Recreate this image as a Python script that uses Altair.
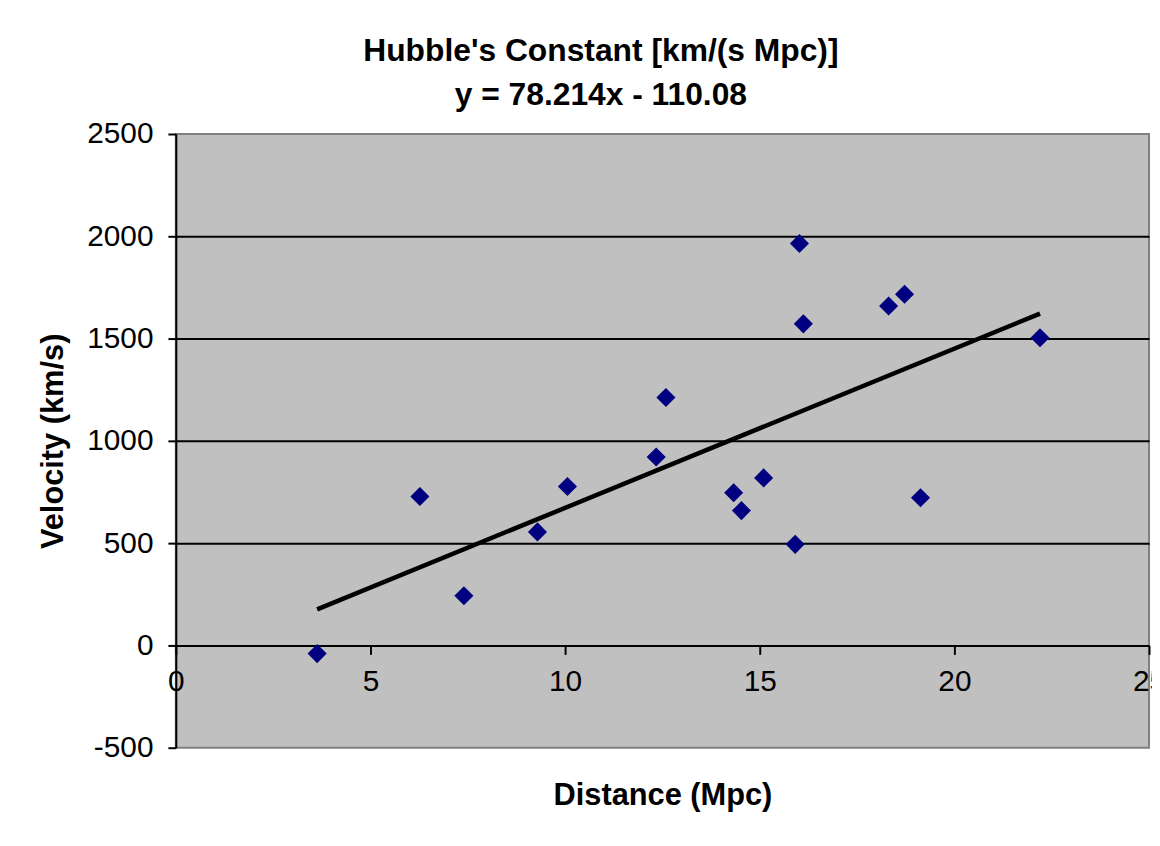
import altair as alt
import pandas as pd

# Data
distance_mpc = [3.63, 6.27, 7.40, 9.29, 10.06, 12.34, 12.59, 14.33, 14.53,
                15.10, 15.91, 16.02, 16.12, 18.31, 18.72, 19.13, 22.20]
velocity_kms = [-40, 728, 243, 555, 777, 921, 1212, 746, 659,
                819, 494, 1965, 1572, 1659, 1717, 722, 1504]
x_ticks = [0, 5, 10, 15, 20, 25]
y_ticks = [-500, 0, 500, 1000, 1500, 2000, 2500]
title_lines = ["Hubble's Constant [km/(s Mpc)]", "y = 78.214x - 110.08"]
x_title = "Distance (Mpc)"
y_title = "Velocity (km/s)"

df = pd.DataFrame({"Distance": distance_mpc, "Velocity": velocity_kms})

FONT = "Liberation Sans"

x_scale = alt.Scale(domain=[0, 25], nice=False, zero=False)
y_scale = alt.Scale(domain=[-500, 2500], nice=False, zero=False)

x_axis = alt.Axis(
    values=x_ticks, labelExpr="'' + datum.value", title=x_title, offset=-103, grid=False,
    domainColor="black", domainWidth=2,
    tickColor="black", tickWidth=2, tickSize=9,
    labelPadding=12, labelFontSize=30, labelFont=FONT, labelColor="black",
    labelFlush=False, labelOverlap=False,
    titleFont=FONT, titleFontSize=31, titleFontWeight="bold", titleColor="black",
    titleBaseline="alphabetic", titleY=160,
)
y_axis = alt.Axis(
    values=y_ticks, labelExpr="'' + datum.value", title=y_title,
    domainColor="black", domainWidth=2,
    tickColor="black", tickWidth=2, tickSize=8,
    labelPadding=15, labelFontSize=30, labelFont=FONT, labelColor="black",
    labelFlush=False, labelOverlap=False,
    grid=True, gridColor="black", gridWidth=2,
    gridOpacity=alt.condition("datum.value == 2500 || datum.value == -500",
                              alt.value(0), alt.value(1)),
    titleFont=FONT, titleFontSize=31, titleFontWeight="bold", titleColor="black",
    titleBaseline="alphabetic", titleX=-114,
)

base = alt.Chart(df)

trend = base.transform_regression("Distance", "Velocity").mark_line(
    color="black", strokeWidth=4.5
).encode(
    x=alt.X("Distance:Q", scale=x_scale, axis=x_axis),
    y=alt.Y("Velocity:Q", scale=y_scale, axis=y_axis),
)

points = base.mark_point(
    shape="diamond", filled=True, size=370, color="#000080", opacity=1
).encode(
    x=alt.X("Distance:Q", scale=x_scale),
    y=alt.Y("Velocity:Q", scale=y_scale),
)

chart = alt.layer(trend, points).properties(
    width=980,
    height=618,
    autosize=alt.AutoSizeParams(type="none"),
    padding={"left": 169, "top": 124, "right": 3, "bottom": 84},
    background="white",
    title=alt.TitleParams(
        text=title_lines, fontSize=32, font=FONT, fontWeight="bold",
        color="black", anchor="middle", frame="group", lineHeight=45,
        baseline="alphabetic", dx=-62, dy=30, offset=12,
    ),
).configure_view(
    fill="#C0C0C0", stroke="#808080", strokeWidth=2
)

chart.save("out.html", embed_options={"renderer": "svg", "actions": False})
